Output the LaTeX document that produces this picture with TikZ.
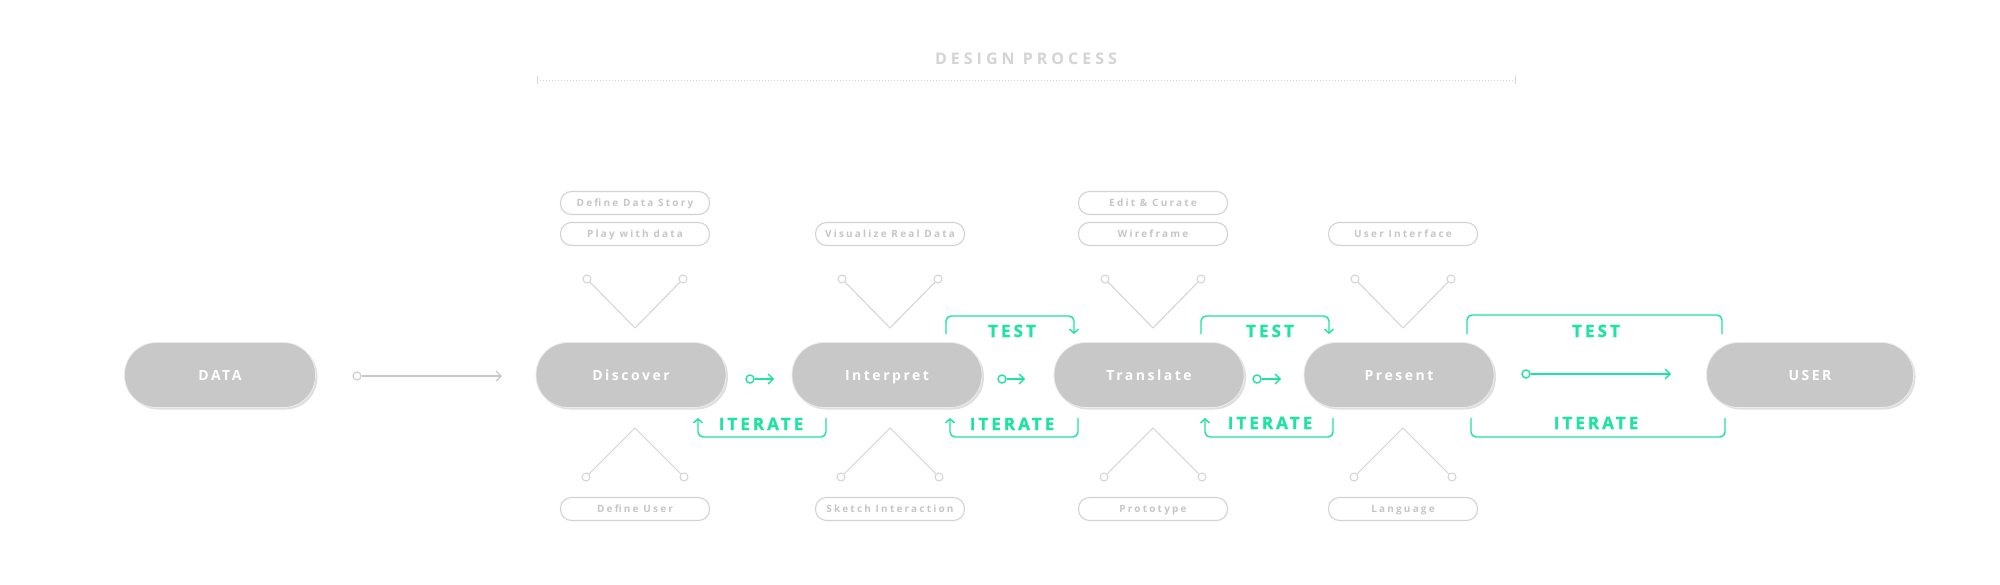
\documentclass[tikz,border=0pt]{standalone}
\usepackage{fontspec}
\setmainfont{Open Sans}
\usepackage{xcolor}
\usepackage{tikz}
\usetikzlibrary{arrows.meta,shadows}

\definecolor{pillgray}{HTML}{C8C8C8}
\definecolor{linegray}{HTML}{D3D3D3}
\definecolor{textgray}{HTML}{C6C6C6}
\definecolor{titlegray}{HTML}{D4D4D4}
\definecolor{mint}{HTML}{1EE3A2}

\begin{document}
\begin{tikzpicture}[x=1pt,y=-1pt,
  stage/.style={draw=white!85!gray,line width=0.8pt,fill=pillgray,rounded corners=32pt,
              minimum width=190pt,minimum height=65pt,text=white,
              font={\fontsize{14}{16}\selectfont\bfseries\addfontfeatures{LetterSpace=18}},
              text height=10pt,text depth=0pt,
              drop shadow={shadow xshift=2pt,shadow yshift=-2pt,opacity=0.25}},
  task/.style={draw=linegray,line width=1.1pt,rounded corners=11pt,
              minimum width=149pt,minimum height=23pt,inner sep=0pt,text=textgray,
              font={\fontsize{10}{12}\selectfont\bfseries\addfontfeatures{LetterSpace=22}},
              text height=7pt,text depth=0pt},
  ring/.style={circle,draw=linegray,fill=white,line width=1pt,minimum size=8pt,inner sep=0pt},
  gring/.style={circle,draw=mint,fill=white,line width=1.4pt,minimum size=8pt,inner sep=0pt},
  vline/.style={draw=linegray,line width=1pt},
  garr/.style={-{Straight Barb[length=5pt,width=10pt]},draw=mint,line width=1.4pt},
  gbr/.style={draw=mint,line width=1.4pt,rounded corners=5pt},
  glabel/.style={text=mint,inner sep=0pt,text height=12pt,text depth=0pt,
              font={\fontsize{17}{20}\selectfont\bfseries\addfontfeatures{LetterSpace=18,FakeBold=1.2}}}]

  \fill[white] (0,0) rectangle (2000,584);
  \useasboundingbox (0,0) rectangle (2000,584);

  \node[text=titlegray,text height=11pt,text depth=0pt,
        font={\fontsize{16}{18}\selectfont\bfseries\addfontfeatures{LetterSpace=25}}]
        (title) at (1026,59) {DESIGN PROCESS};
  \coordinate (barl) at (537,80);
  \coordinate (barr) at (1515,80);
  \draw[linegray,line width=1pt,dotted] (barl) -- (barr);
  \draw[linegray,line width=1pt] ([yshift=-4pt]barl) -- ([yshift=4pt]barl);
  \draw[linegray,line width=1pt] ([yshift=-4pt]barr) -- ([yshift=4pt]barr);

  \node[stage,minimum width=191pt] (data) at (220,375)  {DATA};
  \node[stage] (discover)  at (631,375)  {Discover};
  \node[stage] (interpret) at (887,375)  {Interpret};
  \node[stage] (translate) at (1149,375) {Translate};
  \node[stage] (present)   at (1399,375) {Present};
  \node[stage,minimum width=207pt] (user) at (1810,375) {USER};

  \node[task] (story)  at (635,203)  {Define Data Story};
  \node[task] (play)   at (635,234)  {Play with data};
  \node[task] (visual) at (890,234)  {Visualize Real Data};
  \node[task] (curate) at (1153,203) {Edit \& Curate};
  \node[task] (wire)   at (1153,234) {Wireframe};
  \node[task] (ui)     at (1403,234) {User Interface};
  \node[task] (persona) at (635,509)  {Define User};
  \node[task] (sketch)  at (890,509)  {Sketch Interaction};
  \node[task] (proto)   at (1153,509) {Prototype};
  \node[task] (lang)    at (1403,509) {Language};

  \foreach \x/\n in {635/a,890/b,1153/c,1403/d}{
    \node[ring] (vtl\n) at (\x-48,279) {};
    \node[ring] (vtr\n) at (\x+48,279) {};
    \coordinate (vtv\n) at (\x,328);
    \draw[vline] (vtl\n) -- (vtv\n) -- (vtr\n);
    \node[ring] (vbl\n) at (\x-49,477) {};
    \node[ring] (vbr\n) at (\x+49,477) {};
    \coordinate (vbv\n) at (\x,428);
    \draw[vline] (vbl\n) -- (vbv\n) -- (vbr\n);
  }

  \node[ring,draw=pillgray] (d0) at (357,376) {};
  \coordinate (d0e) at (502,376);
  \draw[pillgray,line width=1.1pt,-{Straight Barb[length=5pt,width=10pt]}] (d0) -- (d0e);

  \node[gring] (g1) at (750,379) {};
  \coordinate (g1e) at (774,379);
  \draw[garr] (g1) -- (g1e);
  \node[gring] (g2) at (1002,379) {};
  \coordinate (g2e) at (1025,379);
  \draw[garr] (g2) -- (g2e);
  \node[gring] (g3) at (1257,379) {};
  \coordinate (g3e) at (1281,379);
  \draw[garr] (g3) -- (g3e);
  \node[gring] (g4) at (1526,374) {};
  \coordinate (g4e) at (1671,374);
  \draw[garr] (g4) -- (g4e);

  \coordinate (t1l) at (946,334);  \coordinate (t1r) at (1074,334);
  \coordinate (t2l) at (1201,334); \coordinate (t2r) at (1329,334);
  \coordinate (t3l) at (1467,334); \coordinate (t3r) at (1722,334);
  \draw[gbr,-{Straight Barb[length=4pt,width=9pt]}] (t1l) -- ++(0,-18) -| (t1r);
  \draw[gbr,-{Straight Barb[length=4pt,width=9pt]}] (t2l) -- ++(0,-18) -| (t2r);
  \draw[gbr] (t3l) -- ++(0,-19) -| (t3r);
  \node[glabel] (test1) at (1012,331) {TEST};
  \node[glabel] (test2) at (1270,331) {TEST};
  \node[glabel] (test3) at (1596,331) {TEST};

  \coordinate (i1l) at (698,418);  \coordinate (i1r) at (826,418);
  \coordinate (i2l) at (950,418);  \coordinate (i2r) at (1078,418);
  \coordinate (i3l) at (1205,418); \coordinate (i3r) at (1333,418);
  \coordinate (i4l) at (1471,418); \coordinate (i4r) at (1725,418);
  \draw[gbr,{Straight Barb[length=4pt,width=9pt]}-] (i1l) -- ++(0,19) -| (i1r);
  \draw[gbr,{Straight Barb[length=4pt,width=9pt]}-] (i2l) -- ++(0,19) -| (i2r);
  \draw[gbr,{Straight Barb[length=4pt,width=9pt]}-] (i3l) -- ++(0,19) -| (i3r);
  \draw[gbr] (i4l) -- ++(0,19) -| (i4r);
  \node[glabel] (iter1) at (761,424)  {ITERATE};
  \node[glabel] (iter2) at (1012,424) {ITERATE};
  \node[glabel] (iter3) at (1270,423) {ITERATE};
  \node[glabel] (iter4) at (1596,423) {ITERATE};

\end{tikzpicture}
\end{document}
